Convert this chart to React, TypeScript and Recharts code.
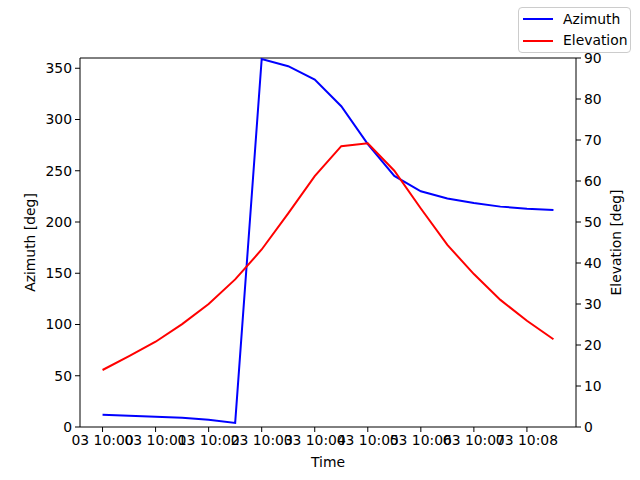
import React from "react";
import { LineChart, Line, XAxis, YAxis, Legend, Label, ReferenceLine } from "recharts";

// seconds after 10:00:00
const times = [0, 30, 60, 90, 120, 150, 180, 210, 240, 270, 300, 330, 360, 390, 420, 450, 480, 510];
const azimuth = [12, 11, 10, 9, 7, 4, 359, 352, 339, 313, 276, 245, 230, 223, 218.5, 215, 213, 211.6];
const elevation = [13.9, 17.3, 20.8, 25.1, 30, 36, 43.3, 52.1, 61.2, 68.5, 69.2, 62.5, 53.3, 44.4, 37.3, 31, 25.9, 21.4];
const timeTicks = [0, 60, 120, 180, 240, 300, 360, 420, 480];
const azTicks = [0, 50, 100, 150, 200, 250, 300, 350];
const elTicks = [0, 10, 20, 30, 40, 50, 60, 70, 80, 90];

const FONT = "DejaVu Sans";
const FS = 13.9;

const data = times.map((t, i) => ({ t, az: azimuth[i], el: elevation[i] }));

const fmtTime = (v: number) => `03 10:0${Math.round(v / 60)}`;

const tickStyle = { fill: "#000", fontSize: FS, fontFamily: FONT };

function LegendBox() {
  const rows = [
    { name: "Azimuth", color: "#0000ff" },
    { name: "Elevation", color: "#ff0000" },
  ];
  return (
    <div
      style={{
        position: "relative",
        width: 113,
        height: 46,
        boxSizing: "border-box",
        border: "1px solid #cccccc",
        borderRadius: 4,
        background: "rgba(255,255,255,0.8)",
        fontFamily: FONT,
        fontSize: FS,
        color: "#000",
      }}
    >
      {rows.map((r, i) => (
        <div key={r.name} style={{ position: "absolute", left: 0, top: i === 0 ? 3 : 24.5, height: 17, width: 112 }}>
          <div style={{ position: "absolute", left: 4, top: 7, width: 30, height: 2, background: r.color }} />
          <span style={{ position: "absolute", left: 44, top: -0.5, lineHeight: "17px", whiteSpace: "nowrap" }}>{r.name}</span>
        </div>
      ))}
    </div>
  );
}

export default function App() {
  return (
    <div style={{ position: "absolute", left: 0, top: 0, width: 640, height: 480, background: "#fff" }}>
      <LineChart width={640} height={480} data={data} margin={{ top: 58, right: 0, bottom: 0, left: 0 }}>
        <XAxis
          dataKey="t"
          type="number"
          domain={[-25.5, 535.5]}
          ticks={timeTicks}
          interval={0}
          allowDataOverflow
          tickFormatter={fmtTime}
          height={53}
          tick={tickStyle}
          tickSize={5}
          tickMargin={3}
          stroke="#000"
        >
          <Label
            content={() => (
              <text x={328} y={462} textAnchor="middle" dominantBaseline="central" fontFamily={FONT} fontSize={FS} fill="#000">
                Time
              </text>
            )}
          />
        </XAxis>
        <YAxis
          yAxisId="left"
          domain={[0, 360]}
          ticks={azTicks}
          interval={0}
          width={80}
          tick={tickStyle}
          tickSize={5}
          tickMargin={3}
          stroke="#000"
        >
          <Label
            content={() => (
              <text x={30} y={242.5} transform="rotate(-90 30 242.5)" textAnchor="middle" dominantBaseline="central" fontFamily={FONT} fontSize={FS} fill="#000">
                Azimuth [deg]
              </text>
            )}
          />
        </YAxis>
        <YAxis
          yAxisId="right"
          orientation="right"
          domain={[0, 90]}
          ticks={elTicks}
          interval={0}
          width={64}
          tick={tickStyle}
          tickSize={5}
          tickMargin={3}
          stroke="#000"
        >
          <Label
            content={() => (
              <text x={616} y={242.5} transform="rotate(-90 616 242.5)" textAnchor="middle" dominantBaseline="central" fontFamily={FONT} fontSize={FS} fill="#000">
                Elevation [deg]
              </text>
            )}
          />
        </YAxis>
        <ReferenceLine yAxisId="left" y={360} stroke="#000" strokeWidth={1} />
        <Line yAxisId="left" dataKey="az" name="Azimuth" stroke="#0000ff" strokeWidth={2} dot={false} isAnimationActive={false} />
        <Line yAxisId="right" dataKey="el" name="Elevation" stroke="#ff0000" strokeWidth={2} dot={false} isAnimationActive={false} />
        <Legend
          layout="vertical"
          align="center"
          verticalAlign="middle"
          content={() => <LegendBox />}
          wrapperStyle={{ left: 518, top: 7, width: 113, height: 46 }}
        />
      </LineChart>
    </div>
  );
}
